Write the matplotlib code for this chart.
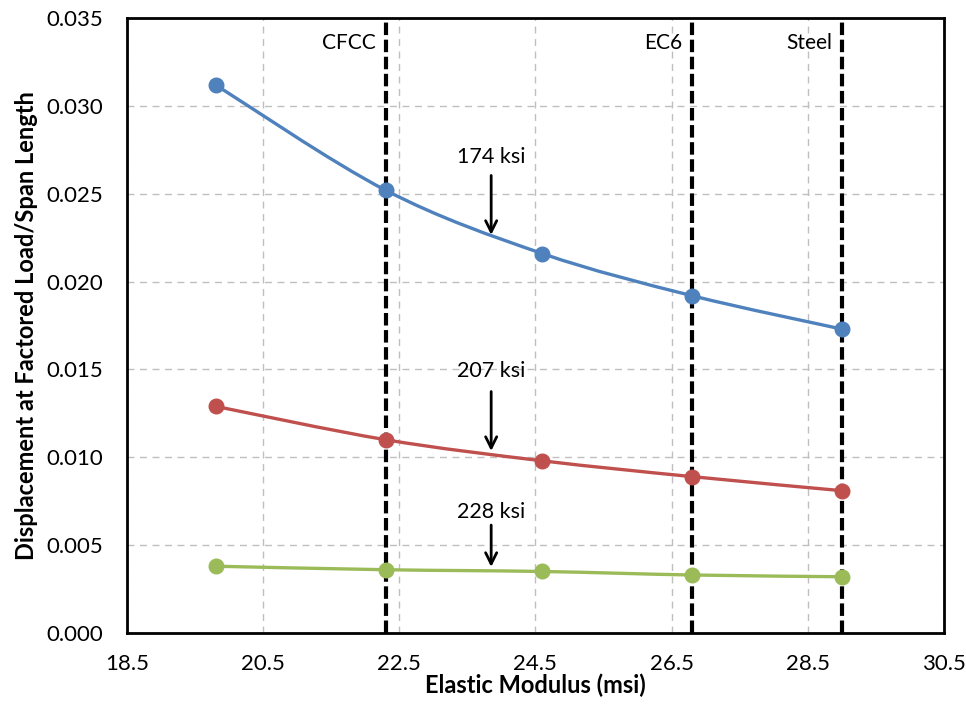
import numpy as np
import matplotlib
matplotlib.use("Agg")
import matplotlib.pyplot as plt
from matplotlib.path import Path
from matplotlib.patches import PathPatch

plt.rcParams["font.family"] = ["Lato", "DejaVu Sans"]

# elastic modulus of the reinforcement (msi)
modulus = [19.8, 22.3, 24.6, 26.8, 29.0]

# displacement / span length for three prestress levels
disp_174 = [0.0312, 0.0252, 0.0216, 0.0192, 0.0173]
disp_207 = [0.0129, 0.0110, 0.0098, 0.0089, 0.0081]
disp_228 = [0.0038, 0.0036, 0.0035, 0.0033, 0.0032]

series_labels = ["174 ksi", "207 ksi", "228 ksi"]
series_colors = ["#4F81BD", "#C0504D", "#9BBB59"]

# reference materials
ref_names = ["CFCC", "EC6", "Steel"]
ref_modulus = [22.3, 26.8, 29.0]

# callout arrows: x, arrow top, arrow tip, text y
callout_x = [23.85, 23.85, 23.85]
callout_top = [0.0262, 0.0139, 0.0063]
callout_tip = [0.0225, 0.0102, 0.0036]
callout_text_y = [0.0271, 0.0149, 0.0069]

x_ticks = [18.5, 20.5, 22.5, 24.5, 26.5, 28.5, 30.5]
y_ticks = [0.000, 0.005, 0.010, 0.015, 0.020, 0.025, 0.030, 0.035]


def smooth_path(x, y):
    """Bezier path through the points, Excel-style smoothed line."""
    pts = np.column_stack([x, y])
    verts = [pts[0]]
    codes = [Path.MOVETO]
    n = len(pts)
    for i in range(n - 1):
        p_prev = pts[max(i - 1, 0)]
        p0, p1 = pts[i], pts[i + 1]
        p_next = pts[min(i + 2, n - 1)]
        c1 = p0 + (p1 - p_prev) / 6.0
        c2 = p1 - (p_next - p0) / 6.0
        verts += [c1, c2, p1]
        codes += [Path.CURVE4] * 3
    return Path(verts, codes)


fig = plt.figure(figsize=(9.66, 7.10), dpi=100)
ax = fig.add_axes([0.1315, 0.1085, 0.8455, 0.866])

for yv, color in zip([disp_174, disp_207, disp_228], series_colors):
    patch = PathPatch(smooth_path(modulus, yv), facecolor="none",
                      edgecolor=color, linewidth=2.4, zorder=4)
    ax.add_patch(patch)
    ax.plot(modulus, yv, "o", color=color, markersize=10.5, zorder=5)

for name, xm in zip(ref_names, ref_modulus):
    ax.axvline(xm, color="black", linewidth=3.0, dashes=(3.0, 1.1), zorder=3)
    ax.annotate(name, xy=(xm, 0.959), xycoords=("data", "axes fraction"),
                xytext=(-7, 0), textcoords="offset points",
                ha="right", va="center", fontsize=15)

for lab, cx, top, tip, ty in zip(series_labels, callout_x, callout_top,
                                  callout_tip, callout_text_y):
    ax.annotate("", xy=(cx, tip), xytext=(cx, top),
                arrowprops=dict(arrowstyle="->,head_length=0.8,head_width=0.4",
                                color="black", lw=2.0), zorder=6)
    ax.text(cx, ty, lab, ha="center", va="center", fontsize=15.5, zorder=6)

ax.set_xlim(18.5, 30.5)
ax.set_ylim(0, 0.035)
ax.set_xticks(x_ticks)
ax.set_yticks(y_ticks)
ax.set_xticklabels([f"{v:.1f}" for v in x_ticks])
ax.set_yticklabels([f"{v:.3f}" for v in y_ticks])
ax.tick_params(length=0, labelsize=16)
ax.tick_params(axis="x", pad=15)
ax.tick_params(axis="y", pad=17)

ax.grid(True, color="#BFBFBF", linestyle=(0, (5, 4)), linewidth=1.0, zorder=0)
ax.set_axisbelow(True)
for sp in ax.spines.values():
    sp.set_linewidth(2.0)
    sp.set_color("black")

ax.set_xlabel("Elastic Modulus (msi)", fontsize=17, fontweight="bold", labelpad=0)
ax.set_ylabel("Displacement at Factored Load/Span Length", fontsize=17,
              fontweight="bold", labelpad=6)

fig.savefig("out.png", dpi=100)
